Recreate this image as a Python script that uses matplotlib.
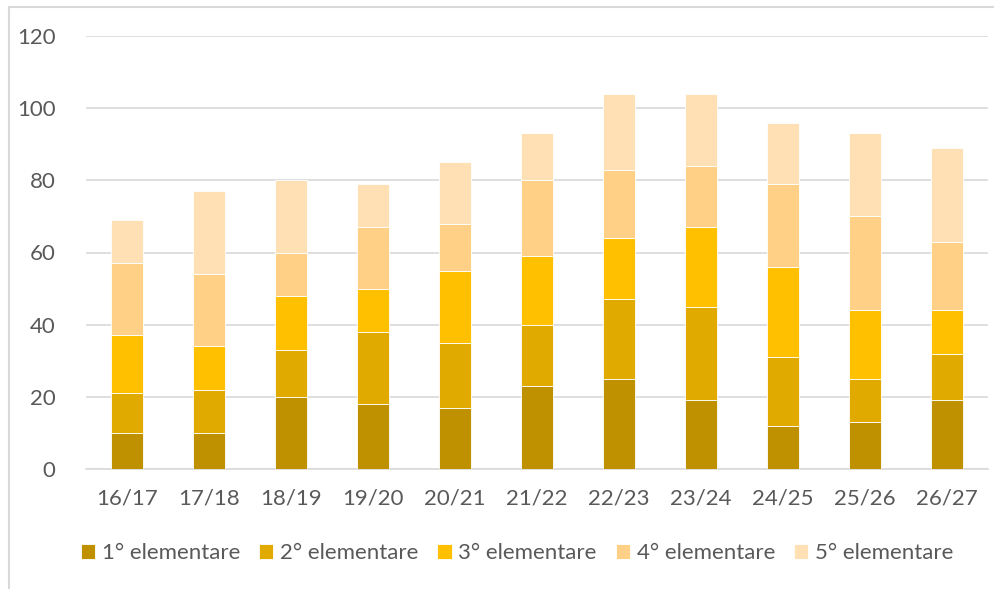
import numpy as np
import matplotlib.pyplot as plt
from matplotlib.patches import Rectangle

# School years and enrolment per class
years = ["16/17", "17/18", "18/19", "19/20", "20/21", "21/22",
         "22/23", "23/24", "24/25", "25/26", "26/27"]
series_names = ["1° elementare", "2° elementare", "3° elementare",
                "4° elementare", "5° elementare"]
first = [10, 10, 20, 18, 17, 23, 25, 19, 12, 13, 19]
second = [11, 12, 13, 20, 18, 17, 22, 26, 19, 12, 13]
third = [16, 12, 15, 12, 20, 19, 17, 22, 25, 19, 12]
fourth = [20, 20, 12, 17, 13, 21, 19, 17, 23, 26, 19]
fifth = [12, 23, 20, 12, 17, 13, 21, 20, 17, 23, 26]
colors = ["#BF9000", "#E1AA00", "#FFC000", "#FFD086", "#FFE0B4"]

plt.rcParams['font.family'] = ['Lato', 'DejaVu Sans']
text_col = "#595959"

fig = plt.figure(figsize=(9.94, 5.89), dpi=100)
ax = fig.add_axes([86 / 994, 1 - 469 / 589, 902 / 994, 433 / 589])

x = np.arange(len(years))
bottom = np.zeros(len(years))
for name, vals, c in zip(series_names, [first, second, third, fourth, fifth], colors):
    ax.bar(x, vals, width=0.4, bottom=bottom, color=c, label=name,
           edgecolor="white", linewidth=0.6, zorder=3)
    bottom += np.array(vals)

ax.set_xlim(-0.5, len(years) - 0.5)
ax.set_ylim(0, 120)
ax.set_yticks(range(0, 121, 20))
ax.set_xticks(x, years)
ax.grid(axis="y", color="#D9D9D9", linewidth=1.2, zorder=0)
for s in ["top", "right", "left"]:
    ax.spines[s].set_visible(False)
ax.spines["bottom"].set_color("#D9D9D9")
ax.spines["bottom"].set_linewidth(1.2)
ax.tick_params(axis="both", length=0, labelsize=16, colors=text_col)
ax.tick_params(axis="y", pad=22)
ax.tick_params(axis="x", pad=14)

fig.legend(loc="center", bbox_to_anchor=(517 / 994, 1 - 553 / 589), ncol=5,
           frameon=False, fontsize=16, labelcolor=text_col,
           handlelength=0.65, handleheight=0.65, handletextpad=0.3,
           columnspacing=0.85)

# chart frame (cut off on right and bottom)
fig.patches.append(Rectangle((9 / 994, -0.1), 1.2, 1 - 7 / 589 + 0.1,
                             transform=fig.transFigure, fill=False,
                             edgecolor="#D9D9D9", linewidth=1.5))

fig.savefig("out.png", dpi=100)
